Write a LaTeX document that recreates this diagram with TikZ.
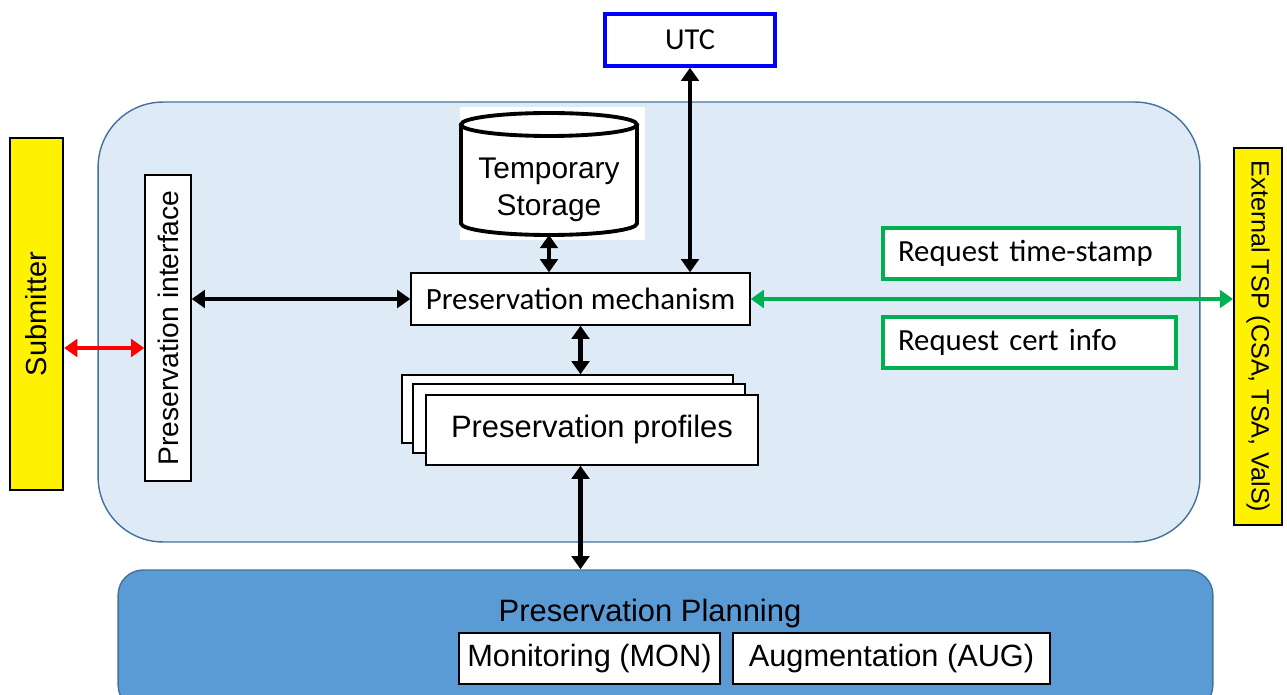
\documentclass[tikz,border=0pt]{standalone}
\usepackage{fontspec}
\setmainfont{Liberation Sans}
\newfontfamily\calibfont{Carlito}
\usetikzlibrary{arrows.meta}

\definecolor{corefill}{HTML}{DEEBF7}
\definecolor{coreline}{HTML}{41719C}
\definecolor{planfill}{HTML}{5B9BD5}
\definecolor{reqgreen}{HTML}{00B050}
\definecolor{utcblue}{HTML}{0000FF}

\begin{document}
\begin{tikzpicture}[
  x=0.02cm, y=-0.02cm,
  font=\fontsize{17.5}{21}\selectfont,
  box/.style={draw,fill=white,line width=0.8pt,inner sep=0pt},
  actor/.style={draw,fill=yellow,line width=1.3pt,inner sep=0pt},
  reqbox/.style={draw=reqgreen,fill=white,line width=2pt,inner xsep=0.3cm,
    inner ysep=0pt,minimum height=1.02cm,align=left,font=\calibfont\fontsize{17.5}{21}\selectfont},
  cyl/.style={draw,fill=white,line width=2.2pt},
  link/.style={<->,>={Triangle[length=7.5pt,width=10pt]},line width=2.3pt}]
\useasboundingbox (0,0) rectangle (1287,695);

% archive core and planning block
\node[draw=coreline,fill=corefill,rounded corners=1.3cm,line width=0.8pt,
  minimum width=22.04cm,minimum height=8.8cm] (core) at (649,322) {};
\node[draw=coreline,fill=planfill,rounded corners=0.5cm,line width=0.8pt,
  minimum width=21.9cm,minimum height=2.8cm] (plan) at (665.5,640) {};
\node[font=\fontsize{17.6}{21}\selectfont] (plantitle) at (650,614) {Preservation Planning};
\node[box,line width=1.1pt,minimum width=5.22cm,minimum height=1.02cm] (mon) at (589.5,658.5) {Monitoring (MON)};
\node[box,line width=1.1pt,minimum width=6.34cm,minimum height=1.02cm] (aug) at (891.5,658.5) {Augmentation (AUG)};

% time source
\node[draw=utcblue,fill=white,line width=2pt,inner sep=0pt,minimum width=3.4cm,
  minimum height=1.04cm,font=\calibfont\fontsize{17.3}{21}\selectfont] (utc) at (690,40) {UTC};

% storage drum
\node[fill=white,minimum width=3.7cm,minimum height=2.66cm] (storebg) at (552.5,173.5) {};
\draw[cyl] (461,124.5) -- (461,223.5)
  arc[start angle=180,end angle=360,x radius=1.76cm,y radius=0.23cm] -- (637,124.5);
\draw[cyl] (549,124.5) ellipse[x radius=1.76cm,y radius=0.23cm];
\coordinate (storebot) at (549,235);
\node[align=center,font=\fontsize{17}{21}\selectfont] (storelbl) at (549,190) {Temporary\\Storage};

\node[box,minimum width=6.78cm,minimum height=1.04cm,
  font=\calibfont\fontsize{17.6}{21}\selectfont] (mech) at (580.5,299) {Preservation mechanism};
\node[box,rotate=90,minimum width=6.12cm,minimum height=0.92cm,
  font=\fontsize{16.1}{19}\selectfont] (iface) at (168,328) {Preservation interface};

% profile stack
\node[box,minimum width=6.62cm,minimum height=1.36cm] (profc) at (567.5,409) {};
\node[box,minimum width=6.64cm,minimum height=1.38cm] (profb) at (579,418.5) {};
\node[box,minimum width=6.64cm,minimum height=1.4cm,
  font=\fontsize{17.6}{21}\selectfont] (prof) at (592,430) {Preservation profiles};

% external parties
\node[actor,rotate=90,minimum width=7.04cm,minimum height=1.06cm,
  font=\fontsize{16.5}{19}\selectfont] (subm) at (36.5,314) {Submitter};
\node[actor,line width=1.1pt,rotate=-90,minimum width=7.54cm,minimum height=0.96cm,
  font=\fontsize{14.3}{17}\selectfont] (tsp) at (1258,336.5) {External TSP (CSA, TSA, ValS)};
\node[reqbox,text width=5.32cm] (reqts) at (1031,253.5) {Request time-stamp};
\node[reqbox,text width=5.26cm] (reqcert) at (1029.5,342.5) {Request cert info};

% connectors (rotated nodes: iface.south and subm.south face right, tsp.south faces left)
\coordinate (redy) at (0,348);
\draw[link] (utc.south) -- (utc.south |- mech.north);
\draw[link] (storebot) -- (storebot |- mech.north);
\draw[link] (iface.south |- mech.west) -- (mech.west);
\draw[link] (mech.south) -- (mech.south |- profc.north);
\draw[link] (mech.south |- prof.south) -- (mech.south |- plan.north);
\draw[link,red,line width=2.2pt] (subm.south |- redy) -- (iface.north |- redy);
\draw[link,reqgreen,line width=2pt] (mech.east) -- (tsp.south |- mech.east);
\end{tikzpicture}
\end{document}
